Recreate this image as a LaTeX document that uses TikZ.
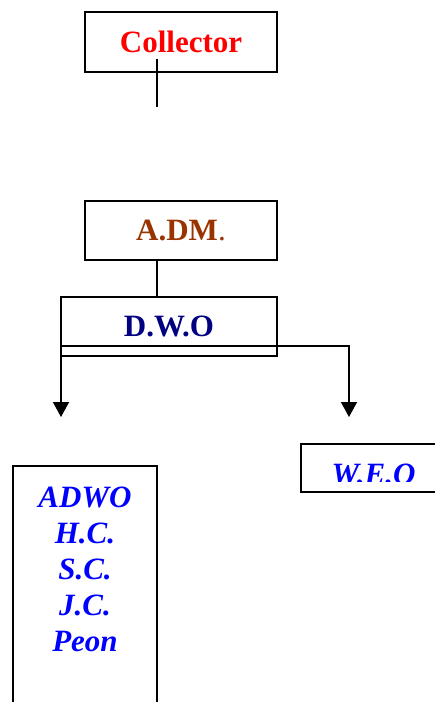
\documentclass[tikz,border=0pt]{standalone}
\usepackage{fontspec}
\setmainfont{Liberation Serif}
\usetikzlibrary{arrows.meta}
\definecolor{admbrown}{RGB}{153,51,0}
\definecolor{dwonavy}{RGB}{0,0,128}
\tikzset{postbox/.style={draw,line width=1.5pt,inner sep=0pt,outer sep=0pt},
  posttext/.style={font=\fontsize{31}{36}\selectfont\bfseries},
  staffname/.style={font=\fontsize{31}{36}\selectfont\bfseries\itshape,text=blue,inner sep=0pt},
  downline/.style={-{Triangle[width=16pt,length=15pt]},line width=1.5pt}}
\begin{document}
\begin{tikzpicture}[x=1pt,y=-1pt]
\useasboundingbox (0,0) rectangle (435,702);
\begin{scope}
  \clip (0,0) rectangle (435,702);
%   boxes
  \node[postbox,posttext,text=red,minimum width=192pt,minimum height=60pt] (coll) at (181,42) {Collector};
  \node[postbox,posttext,text=admbrown,minimum width=192pt,minimum height=59pt] (adm) at (181,230.5) {A.DM\mdseries.};
  \node[postbox,posttext,text=dwonavy,minimum width=216pt,minimum height=59pt] (dwo) at (169,326.5) {D.W.O};
  \node[postbox,minimum width=144pt,minimum height=48pt] (weo) at (373,468) {};
  \node[postbox,minimum width=144pt,minimum height=244pt] (staff) at (85,588) {};
  \begin{scope}
    \clip (301,444) rectangle (435,481);
    \node[staffname] (weotext) at (373.5,474) {W.E.O};
  \end{scope}
  \node[staffname,align=center,anchor=north] (stafftext) at (85,487)
    {ADWO\\H.C.\\S.C.\\J.C.\\Peon};
%   lines
  \coordinate (collend) at (157,107);
  \coordinate (leftend) at (61,417);
  \coordinate (rightend) at (349,417);
  \draw[line width=1.5pt] ([xshift=-24pt,yshift=13pt]coll.south) -- (collend);
  \draw[line width=1.5pt] ([xshift=-24pt]adm.south) -- ([xshift=-24pt]adm.south |- dwo.north);
  \draw[downline] ([yshift=10pt]dwo.south west) -- (leftend);
  \draw[downline] ([yshift=10pt]dwo.south west) -| (rightend);
\end{scope}
\end{tikzpicture}
\end{document}
